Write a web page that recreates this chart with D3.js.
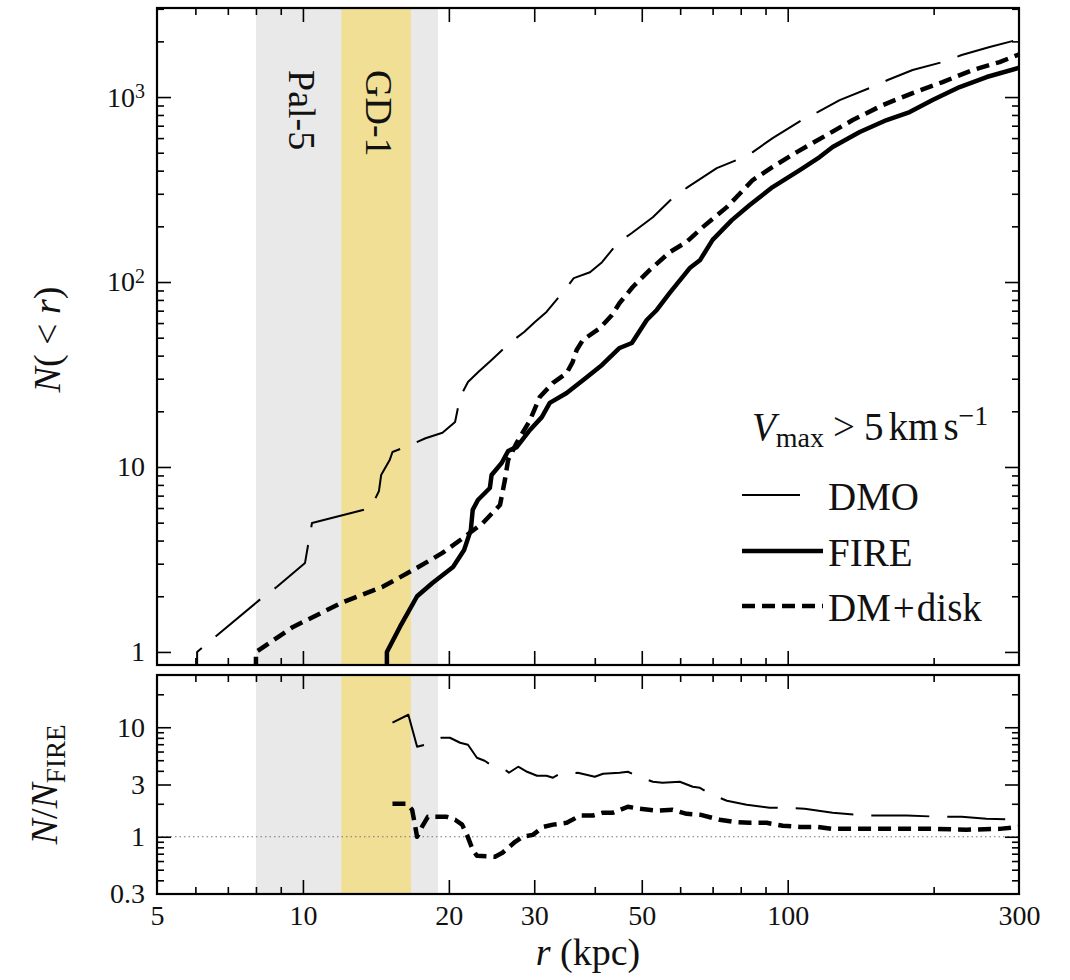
<!DOCTYPE html>
<html><head><meta charset="utf-8">
<script src="https://cdn.jsdelivr.net/npm/d3@7"></script>
<style>
body{margin:0;background:#fff}
text{font-family:"Liberation Serif","Tinos","Times New Roman",serif;fill:#111}
</style>
</head><body>
<svg id="c" width="1070" height="980"></svg>
<script>
// ---------------- data ----------------
const dmoR = [6.05, 6.05, 8.23, 8.84, 10.1, 10.29, 10.44, 13.8, 14.35, 14.5, 15.1, 15.3, 16.6, 17.9, 19.4, 20.6, 21.1, 21.9, 23.0, 24.5, 26.7, 28.6, 30.1, 31.8, 34.4, 36.2, 39.1, 41.4, 44.6, 47.7, 52.7, 57.9, 62.2, 71.4, 78.5, 84.7, 93.1, 106.9, 115.3, 128, 147.6, 160.8, 181, 208.7, 228.5, 261, 300];
const dmoN = [0.8, 1, 1.96, 2.25, 3.03, 4.03, 4.98, 6.0, 7.42, 9.05, 10.9, 12.05, 13.1, 14.3, 15.3, 17.5, 23.9, 28.8, 32.6, 37.9, 46.8, 53.7, 60.8, 68.9, 88.3, 105, 113, 128, 163, 184, 224, 285, 326, 413, 457, 504, 600, 751, 830, 963, 1119, 1236, 1400, 1546, 1687, 1864, 2050];

const fireR = [14.9, 14.9, 15.85, 17.2, 18.5, 20.4, 21.5, 22.2, 22.4, 22.96, 24.3, 24.5, 25.7, 26.5, 27.6, 29.4, 31.1, 32.3, 35.0, 38.5, 41.4, 45.0, 47.7, 51.2, 53.7, 57.1, 62.8, 65.9, 70.0, 76.7, 83.5, 93.1, 105.9, 116.4, 123.8, 140.8, 160, 178.5, 199, 226.3, 257.3, 300];
const fireN = [0.8, 1, 1.365, 2.0, 2.36, 2.88, 3.56, 4.57, 5.86, 6.63, 7.7, 9.05, 10.5, 12.2, 12.8, 15.85, 18.6, 22.2, 25.1, 30.6, 35.6, 44.0, 46.8, 62.3, 70.6, 87.3, 119, 131, 169, 216, 261, 326, 403, 474, 537, 647, 751, 830, 963, 1132, 1283, 1440];

const diskR = [8.0, 8.0, 9.54, 12.1, 14.6, 17.2, 19.4, 21.4, 23.5, 25.5, 26.1, 26.5, 27.6, 29.4, 30.8, 32.8, 35.0, 36.0, 36.7, 37.8, 41.0, 43.4, 45.0, 47.9, 51.9, 57.1, 61.9, 66.8, 74.9, 84.7, 93.1, 104.4, 120.3, 136.2, 157, 181, 208.7, 240.8, 273.6, 300];
const diskN = [0.8, 1, 1.365, 1.86, 2.25, 2.85, 3.43, 4.13, 4.98, 6.23, 8.5, 10.9, 13.5, 17.9, 23.9, 28.5, 32.2, 36.9, 42.9, 48.6, 56.4, 66.3, 77, 94, 116, 145, 165, 198, 254, 356, 419, 504, 623, 751, 905, 1051, 1205, 1400, 1546, 1700];

const ratioDmoR = [15.3, 16.5, 17.2, 17.85, 19.3, 20.1, 21.1, 21.9, 22.85, 23.7, 24.4, 26.3, 26.6, 27.8, 29.0, 30.4, 31.8, 32.8, 33.9, 36.9, 40.0, 41.6, 45.0, 46.8, 48.8, 52.7, 55.2, 59.9, 63.7, 65.9, 69.1, 74.9, 82.3, 91.8, 99.5, 108.4, 123.8, 144.1, 157, 176, 208.7, 228.5, 257, 300];
const ratioDmoV = [11.0, 13.0, 6.64, 6.92, 8.02, 8.02, 7.22, 6.92, 5.27, 4.94, 4.55, 4.01, 3.84, 4.36, 3.92, 3.61, 3.61, 3.46, 3.76, 3.84, 3.53, 3.76, 3.84, 3.92, 3.61, 3.18, 3.11, 3.18, 2.86, 2.80, 2.47, 2.13, 1.96, 1.84, 1.84, 1.80, 1.66, 1.56, 1.56, 1.56, 1.52, 1.52, 1.46, 1.44];

const ratioDiskR = [15.3, 16.4, 16.8, 17.2, 17.6, 18.1, 19.8, 20.6, 21.3, 21.8, 22.4, 22.85, 24.9, 25.8, 27.4, 28.4, 29.8, 31.3, 32.8, 35.0, 37.3, 39.6, 41.6, 43.6, 46.8, 49.5, 53.7, 57.9, 61.9, 65.9, 72.4, 77.0, 83.5, 90.5, 97.7, 105.9, 114.8, 123.8, 145.5, 170.2, 199, 233.9, 273.6, 300];
const ratioDiskV = [2.0, 2.0, 1.76, 1.0, 1.23, 1.52, 1.52, 1.43, 1.29, 1.04, 0.76, 0.67, 0.657, 0.714, 0.90, 1.0, 1.04, 1.23, 1.29, 1.34, 1.56, 1.56, 1.66, 1.66, 1.88, 1.80, 1.73, 1.76, 1.62, 1.59, 1.43, 1.37, 1.34, 1.34, 1.26, 1.23, 1.23, 1.18, 1.18, 1.18, 1.18, 1.16, 1.18, 1.23];

const bandNames = ["Pal-5", "GD-1"];
const bandLo = [8.0, 12.0];
const bandHi = [19.0, 16.7];

const xTickLabels = [5, 10, 20, 30, 50, 100, 300];
const xMajor = [10, 20, 30, 50, 100];
const xMinor = [6, 7, 8, 9, 40, 60, 70, 80, 90, 200];
const topYLabels = [1, 10, 100, 1000];
const topYMinor = [2,3,4,5,6,7,8,9,20,30,40,50,60,70,80,90,200,300,400,500,600,700,800,900,2000,3000];
const ratioLabels = [0.3, 1, 3, 10];
const ratioMajor = [1, 3, 10];
const ratioMinor = [0.4,0.5,0.6,0.7,0.8,0.9,2,4,5,6,7,8,9,20];
const legendNames = ["DMO", "FIRE", "DM+disk"];

// ---------------- layout ----------------
const svg = d3.select("#c");
const L = 157, R = 1019;
const topY0 = 8, topY1 = 665, botY0 = 675, botY1 = 894;
const x = d3.scaleLog().domain([5, 300]).range([L, R]);
const yT = d3.scaleLog().domain([0.85, 3030]).range([topY1, topY0]);
const yB = d3.scaleLog().domain([0.3, 30]).range([botY1, botY0]);

const GRAY = "#e9e9e9", YELLOW = "#f0df95";
const TICKFONT = 28, BIGFONT = 38, LEGFONT = 39;

svg.append("rect").attr("width", 1070).attr("height", 980).attr("fill", "#fff");

const defs = svg.append("defs");
defs.append("clipPath").attr("id", "clipT").append("rect")
  .attr("x", L).attr("y", topY0).attr("width", R - L).attr("height", topY1 - topY0);
defs.append("clipPath").attr("id", "clipB").append("rect")
  .attr("x", L).attr("y", botY0).attr("width", R - L).attr("height", botY1 - botY0);

// bands
[[topY0, topY1], [botY0, botY1]].forEach(([a, b]) => {
  svg.append("g").selectAll("rect").data(bandNames).join("rect")
    .attr("x", (d, i) => x(bandLo[i]))
    .attr("width", (d, i) => x(bandHi[i]) - x(bandLo[i]))
    .attr("y", a).attr("height", b - a)
    .attr("fill", (d, i) => i === 0 ? GRAY : YELLOW);
});
// band labels (rotated)
svg.append("g").selectAll("text").data(bandNames).join("text")
  .attr("transform", (d, i) => {
    const cx = (i === 0) ? x(bandLo[0]) + (x(bandLo[1]) - x(bandLo[0])) / 2 : (x(bandLo[1]) + x(bandHi[1])) / 2;
    return `translate(${cx - 10},70) rotate(90)`;
  })
  .attr("font-size", BIGFONT)
  .text(d => d);

// ratio = 1 dotted line
svg.append("line").attr("x1", L).attr("x2", R).attr("y1", yB(1)).attr("y2", yB(1))
  .attr("stroke", "#777").attr("stroke-width", 1.2).attr("stroke-dasharray", "1.5,3");

// ---------------- curves ----------------
function drawLine(clip, xs, ys, yScale, width, dash, offset) {
  const pts = xs.map((r, i) => [r, ys[i]]);
  const line = d3.line().x(d => x(d[0])).y(d => yScale(d[1]));
  const p = svg.append("path").attr("clip-path", `url(#${clip})`)
    .attr("d", line(pts)).attr("fill", "none").attr("stroke", "#000")
    .attr("stroke-width", width).attr("stroke-linejoin", "round");
  if (dash) p.attr("stroke-dasharray", dash).attr("stroke-dashoffset", offset || 0);
  return p;
}
const DMODASH = "58,18", DISKDASH = "13,7";
drawLine("clipT", dmoR, dmoN, yT, 2, DMODASH, 34);
drawLine("clipT", diskR, diskN, yT, 4.5, DISKDASH, 0);
drawLine("clipT", fireR, fireN, yT, 4.5, null);
drawLine("clipB", ratioDmoR, ratioDmoV, yB, 2, DMODASH, 0);
drawLine("clipB", ratioDiskR, ratioDiskV, yB, 4.5, DISKDASH, 0);

// ---------------- axes / ticks ----------------
function tickGroup(tx, ty, axis) {
  const g = svg.append("g").attr("transform", `translate(${tx},${ty})`).call(axis);
  g.select(".domain").remove();
  g.selectAll(".tick line").attr("stroke", "#000").attr("stroke-width", 1.6);
  return g;
}
function ticksFor(y0, y1, yScale, yMajorVals, yMinorVals) {
  tickGroup(0, y1, d3.axisBottom(x).tickValues(xMajor).tickSize(-14).tickFormat(""));
  tickGroup(0, y1, d3.axisBottom(x).tickValues(xMinor).tickSize(-7).tickFormat(""));
  tickGroup(0, y0, d3.axisTop(x).tickValues(xMajor).tickSize(-14).tickFormat(""));
  tickGroup(0, y0, d3.axisTop(x).tickValues(xMinor).tickSize(-7).tickFormat(""));
  tickGroup(L, 0, d3.axisLeft(yScale).tickValues(yMajorVals).tickSize(-14).tickFormat(""));
  tickGroup(L, 0, d3.axisLeft(yScale).tickValues(yMinorVals).tickSize(-7).tickFormat(""));
  tickGroup(R, 0, d3.axisRight(yScale).tickValues(yMajorVals).tickSize(-14).tickFormat(""));
  tickGroup(R, 0, d3.axisRight(yScale).tickValues(yMinorVals).tickSize(-7).tickFormat(""));
  svg.append("rect").attr("x", L).attr("y", y0).attr("width", R - L).attr("height", y1 - y0)
    .attr("fill", "none").attr("stroke", "#000").attr("stroke-width", 2.2);
}
ticksFor(topY0, topY1, yT, topYLabels, topYMinor);
ticksFor(botY0, botY1, yB, ratioMajor, ratioMinor);

// tick labels
function styleLabels(g) {
  g.attr("font-family", null);
  g.selectAll("text").attr("font-size", TICKFONT).attr("fill", "#111");
}
const xl = svg.append("g").attr("transform", `translate(0,${botY1})`)
  .call(d3.axisBottom(x).tickValues(xTickLabels).tickSize(0).tickPadding(11).tickFormat(d => d));
xl.select(".domain").remove(); styleLabels(xl);

const ylT = svg.append("g").attr("transform", `translate(${L},0)`)
  .call(d3.axisLeft(yT).tickValues(topYLabels).tickSize(0).tickPadding(12).tickFormat(d => d));
ylT.select(".domain").remove(); styleLabels(ylT);
ylT.selectAll("text").each(function(d) {
  if (d >= 100) {
    const t = d3.select(this);
    t.text("10");
    t.append("tspan").attr("dy", "-0.42em").attr("font-size", 20).text(Math.round(Math.log10(d)));
  }
});

const ylB = svg.append("g").attr("transform", `translate(${L},0)`)
  .call(d3.axisLeft(yB).tickValues(ratioLabels).tickSize(0).tickPadding(12).tickFormat(d => d));
ylB.select(".domain").remove(); styleLabels(ylB);

// axis titles
const xt = svg.append("text").attr("x", (L + R) / 2).attr("y", 965)
  .attr("text-anchor", "middle").attr("font-size", BIGFONT);
xt.append("tspan").attr("font-style", "italic").text("r");
xt.append("tspan").text(" (kpc)");

const yt = svg.append("text").attr("transform", `translate(60,${(topY0 + topY1) / 2 + 3}) rotate(-90)`)
  .attr("text-anchor", "middle").attr("font-size", BIGFONT);
yt.append("tspan").attr("font-style", "italic").text("N");
yt.append("tspan").text("( < ");
yt.append("tspan").attr("font-style", "italic").text("r");
yt.append("tspan").text(")");

const yb = svg.append("text").attr("transform", `translate(57,${(botY0 + botY1) / 2}) rotate(-90)`)
  .attr("text-anchor", "middle").attr("font-size", BIGFONT);
yb.append("tspan").attr("font-style", "italic").text("N");
yb.append("tspan").text("/");
yb.append("tspan").attr("font-style", "italic").text("N");
yb.append("tspan").attr("font-size", 27).attr("dy", 8).text("FIRE");

// ---------------- legend ----------------
const lt = svg.append("text").attr("x", 752).attr("y", 440).attr("font-size", LEGFONT);
lt.append("tspan").attr("font-style", "italic").text("V");
lt.append("tspan").attr("font-size", 28).attr("dy", 7).text("max");
lt.append("tspan").attr("dy", -7).attr("dx", 9).text(">");
lt.append("tspan").attr("dx", 9).text("5");
lt.append("tspan").attr("dx", 5).text("km");
lt.append("tspan").attr("dx", 5).text("s");
lt.append("tspan").attr("font-size", 28).attr("dy", -15).text("\u22121");

const legY = [495, 551, 606];
const legW = [2, 4.5, 4.5];
const legDash = [DMODASH, null, DISKDASH];
const lg = svg.append("g");
legendNames.forEach((name, i) => {
  const ln = lg.append("line").attr("x1", 742).attr("x2", 823).attr("y1", legY[i]).attr("y2", legY[i])
    .attr("stroke", "#000").attr("stroke-width", legW[i]);
  if (i === 0) ln.attr("x2", 804);
  if (legDash[i]) ln.attr("stroke-dasharray", legDash[i]);
  const t = lg.append("text").attr("x", 828).attr("y", legY[i] + 15).attr("font-size", LEGFONT);
  if (name.includes("+")) {
    const parts = name.split("+");
    t.append("tspan").text(parts[0]);
    t.append("tspan").attr("dx", 2).text("+");
    t.append("tspan").attr("dx", 2).text(parts[1]);
  } else t.text(name);
});
</script>
</body></html>
